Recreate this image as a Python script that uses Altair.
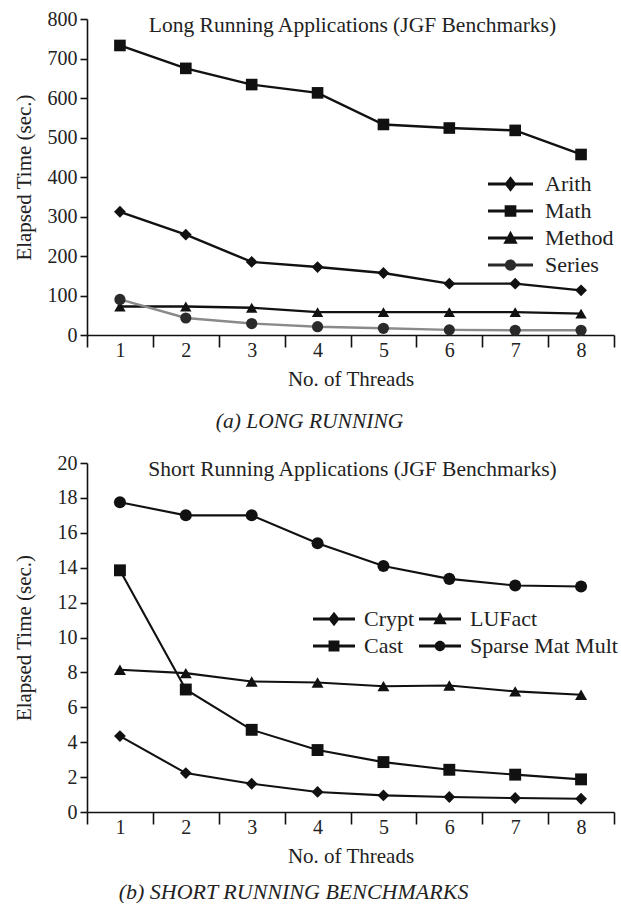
import altair as alt
import pandas as pd

threads = [1, 2, 3, 4, 5, 6, 7, 8]

# Long running (JGF)
long_names = ["Arith", "Math", "Method", "Series"]
arith = [312, 254, 185, 172, 157, 130, 130, 113]
math_ = [733, 675, 634, 613, 533, 524, 518, 457]
method = [72, 72, 69, 58, 58, 58, 58, 54]
series = [90, 43, 29, 21, 17, 13, 12, 12]

# Short running (JGF)
short_names = ["Crypt", "Cast", "LUFact", "Sparse Mat Mult"]
crypt = [4.35, 2.23, 1.62, 1.15, 0.95, 0.86, 0.80, 0.76]
cast = [13.85, 7.02, 4.71, 3.55, 2.86, 2.42, 2.14, 1.87]
lufact = [8.15, 7.96, 7.48, 7.42, 7.21, 7.25, 6.91, 6.72]
sparse = [17.75, 17.0, 17.0, 15.4, 14.1, 13.36, 12.98, 12.92]

FONT = "Liberation Serif"
W = 527
H1 = 316
H2 = 349

# legend symbol paths (line through marker), all drawn clockwise
LN = "M-1,-0.07L1,-0.07L1,0.07L-1,0.07Z"
P_DIAMOND = LN + "M0,-0.34L0.27,0L0,0.34L-0.27,0Z"
P_SQUARE = LN + "M-0.26,-0.26L0.26,-0.26L0.26,0.26L-0.26,0.26Z"
P_TRI = LN + "M0,-0.32L0.32,0.25L-0.32,0.25Z"
P_CIRCLE = LN + "M-0.25,0A0.25,0.25 0 1,1 0.25,0A0.25,0.25 0 1,1 -0.25,0Z"


def make_df(names, vals):
    rows = []
    for n, v in zip(names, vals):
        for t, y in zip(threads, v):
            rows.append({"threads": t, "series": n, "value": y})
    return pd.DataFrame(rows)


def panel(df, names, shapes, paths, line_colors, pt_colors, sizes, H, ymax, ystep,
          inner_title, caption, cap_dx, cap_offset, cap_size, legend_kw, line_w):
    xs = alt.X("threads:O",
               scale=alt.Scale(type="band", paddingInner=0, paddingOuter=0),
               axis=alt.Axis(tickBand="extent", labelAngle=0, tickSize=12,
                             labelPadding=-7, grid=False,
                             title="No. of Threads", titlePadding=8))
    ys = alt.Y("value:Q",
               scale=alt.Scale(domain=[0, ymax], nice=False),
               axis=alt.Axis(values=list(range(0, ymax + 1, ystep)), tickSize=7,
                             labelPadding=3, grid=False, title="Elapsed Time (sec.)",
                             titleX=-53, titleY=H / 2))
    base = alt.Chart(df)
    lines = base.mark_line(strokeWidth=line_w).encode(
        x=xs, y=ys,
        color=alt.Color("series:N", scale=alt.Scale(domain=names, range=line_colors), legend=None),
        detail="series:N",
    )
    pts = base.mark_point(filled=True, opacity=1).encode(
        x=xs, y=ys,
        shape=alt.Shape("series:N", scale=alt.Scale(domain=names, range=shapes), legend=None),
        color=alt.Color("series:N", scale=alt.Scale(domain=names, range=pt_colors), legend=None),
        size=alt.Size("series:N", scale=alt.Scale(domain=names, range=sizes), legend=None),
    )
    leg = base.mark_point(filled=True, opacity=0).encode(
        x=xs, y=ys,
        shape=alt.Shape("series:N", scale=alt.Scale(domain=names, range=paths),
                        legend=alt.Legend(title=None, **legend_kw)),
        color=alt.Color("series:N", scale=alt.Scale(domain=names, range=pt_colors),
                        legend=alt.Legend(title=None, **legend_kw)),
    )
    title_df = pd.DataFrame({"t": [inner_title]})
    ttl = alt.Chart(title_df).mark_text(font=FONT, fontSize=21.5, color="#222",
                                        baseline="middle", align="center").encode(
        text="t:N", x=alt.value(W / 2 + 2), y=alt.value(7))
    ch = alt.layer(lines, pts, leg, ttl).resolve_scale(
        shape="independent", color="independent", size="independent"
    ).properties(
        width=W, height=H,
        title=alt.TitleParams(caption, orient="bottom", anchor="middle", font=FONT,
                              fontSize=cap_size, fontStyle="italic", fontWeight="normal",
                              color="#222", offset=cap_offset, dx=cap_dx),
    )
    return ch


top_df = make_df(long_names, [arith, math_, method, series])
bot_df = make_df(short_names, [crypt, cast, lufact, sparse])

legend_common = dict(orient="none", symbolStrokeWidth=0, labelFont=FONT, labelFontSize=22,
                     labelColor="#222", clipHeight=20, rowPadding=5, padding=0,
                     symbolOpacity=1)

top = panel(top_df, long_names,
            ["diamond", "square", "triangle-up", "circle"],
            [P_DIAMOND, P_SQUARE, P_TRI, P_CIRCLE],
            ["#111", "#111", "#111", "#8a8a8a"],
            ["#111", "#111", "#111", "#2a2a2a"],
            [140, 125, 140, 110],
            H1, 800, 100,
            "Long Running Applications (JGF Benchmarks)",
            "(a) LONG RUNNING", -41, 22, 21.5,
            dict(legend_common, legendX=401, legendY=155, symbolSize=2025, labelOffset=12),
            2.4)

bot = panel(bot_df, short_names,
            ["diamond", "square", "triangle-up", "circle"],
            [P_DIAMOND, P_SQUARE, P_TRI, P_CIRCLE],
            ["#111", "#111", "#111", "#111"],
            ["#111", "#111", "#111", "#111"],
            [140, 145, 150, 105],
            H2, 20, 2,
            "Short Running Applications (JGF Benchmarks)",
            "(b) SHORT RUNNING BENCHMARKS", -57, 16, 22,
            dict(legend_common, legendX=226, legendY=146, symbolSize=1764, labelOffset=9,
                 columns=2, columnPadding=4),
            2.1)

chart = alt.vconcat(top, bot, spacing=20).properties(
    padding={"left": 13, "top": 9, "right": 2, "bottom": 0},
    background="white",
).configure_view(stroke=None).configure_axis(
    domainColor="#111", domainWidth=1.6, tickColor="#111", tickWidth=1.6,
    labelFont=FONT, labelFontSize=20, labelColor="#222",
    titleFont=FONT, titleFontSize=21, titleColor="#222", titleFontWeight="normal",
)

chart.save("out.html", embed_options={"renderer": "svg", "actions": False})
